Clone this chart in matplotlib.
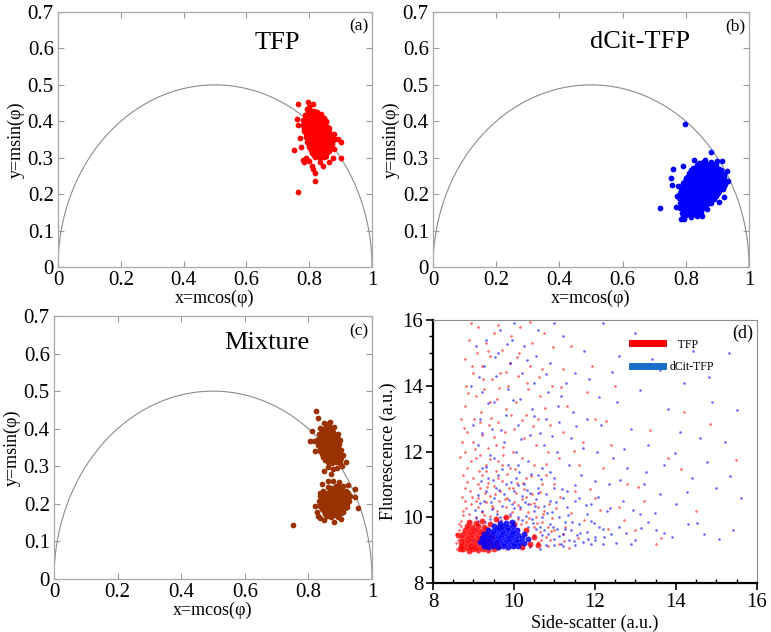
import matplotlib
matplotlib.use("Agg")
import matplotlib.pyplot as plt
from matplotlib.patches import Arc
from matplotlib.lines import Line2D
from matplotlib.ticker import MultipleLocator
import numpy as np

plt.rcParams["font.family"] = ["Liberation Serif", "DejaVu Serif"]

# ---- panel (a): TFP phasor points ----
tfp_points = [
    (0.792, 0.433), (0.803, 0.430), (0.815, 0.428), (0.800, 0.440),
    (0.787, 0.418), (0.798, 0.420), (0.809, 0.416), (0.821, 0.419), (0.832, 0.414),
    (0.781, 0.404), (0.792, 0.401), (0.804, 0.405), (0.816, 0.402), (0.828, 0.404), (0.840, 0.400), (0.846, 0.408),
    (0.779, 0.389), (0.790, 0.386), (0.802, 0.390), (0.813, 0.387), (0.825, 0.389), (0.837, 0.386), (0.849, 0.389), (0.856, 0.383),
    (0.784, 0.374), (0.795, 0.371), (0.807, 0.375), (0.818, 0.372), (0.830, 0.374), (0.842, 0.371), (0.854, 0.374), (0.864, 0.370),
    (0.789, 0.358), (0.800, 0.356), (0.812, 0.360), (0.824, 0.357), (0.836, 0.359), (0.848, 0.356), (0.860, 0.359), (0.870, 0.355),
    (0.794, 0.344), (0.806, 0.341), (0.818, 0.345), (0.830, 0.342), (0.842, 0.344), (0.854, 0.341), (0.866, 0.344), (0.874, 0.339),
    (0.800, 0.329), (0.812, 0.326), (0.824, 0.330), (0.836, 0.327), (0.848, 0.329), (0.860, 0.326), (0.868, 0.331),
    (0.810, 0.314), (0.822, 0.311), (0.834, 0.315), (0.846, 0.312), (0.856, 0.316),
    (0.820, 0.302), (0.835, 0.300), (0.848, 0.303),
    (0.797, 0.424), (0.809, 0.425), (0.824, 0.426),
    (0.792, 0.411), (0.804, 0.410), (0.815, 0.411), (0.827, 0.409), (0.838, 0.412),
    (0.786, 0.396), (0.798, 0.395), (0.810, 0.397), (0.822, 0.395), (0.834, 0.397), (0.846, 0.394), (0.853, 0.397),
    (0.784, 0.381), (0.796, 0.380), (0.808, 0.382), (0.819, 0.380), (0.831, 0.382), (0.843, 0.380), (0.855, 0.378), (0.862, 0.381),
    (0.790, 0.366), (0.801, 0.364), (0.813, 0.367), (0.824, 0.365), (0.836, 0.367), (0.848, 0.364), (0.860, 0.366), (0.868, 0.363),
    (0.795, 0.350), (0.806, 0.349), (0.818, 0.352), (0.830, 0.349), (0.842, 0.351), (0.854, 0.348), (0.866, 0.351), (0.876, 0.348),
    (0.800, 0.335), (0.812, 0.334), (0.824, 0.337), (0.836, 0.334), (0.848, 0.336), (0.860, 0.333), (0.871, 0.336),
    (0.806, 0.320), (0.818, 0.319), (0.830, 0.321), (0.842, 0.319), (0.854, 0.321), (0.864, 0.318),
    (0.815, 0.307), (0.828, 0.306), (0.841, 0.308), (0.852, 0.306),
    (0.765, 0.207), (0.820, 0.237), (0.818, 0.258), (0.812, 0.270), (0.808, 0.278), (0.750, 0.320),
    (0.782, 0.287), (0.780, 0.293), (0.790, 0.300), (0.900, 0.298), (0.902, 0.342), (0.893, 0.352),
    (0.760, 0.405), (0.764, 0.390), (0.765, 0.448), (0.797, 0.452), (0.811, 0.447), (0.838, 0.420),
    (0.845, 0.276), (0.862, 0.288), (0.880, 0.323), (0.875, 0.300), (0.835, 0.288), (0.770, 0.355),
    (0.775, 0.330), (0.883, 0.352), (0.878, 0.365), (0.800, 0.292), (0.852, 0.400),
]

# ---- panel (b): dCit-TFP phasor points ----
dcit_points = [
    (0.842, 0.285), (0.855, 0.288), (0.867, 0.284), (0.879, 0.287), (0.891, 0.283), (0.900, 0.290),
    (0.822, 0.273), (0.834, 0.270), (0.846, 0.274), (0.858, 0.271), (0.870, 0.274), (0.882, 0.270), (0.894, 0.273), (0.906, 0.270),
    (0.810, 0.259), (0.822, 0.256), (0.834, 0.260), (0.846, 0.257), (0.858, 0.259), (0.870, 0.256), (0.882, 0.260), (0.894, 0.257), (0.906, 0.259), (0.917, 0.256),
    (0.802, 0.245), (0.814, 0.242), (0.826, 0.246), (0.838, 0.243), (0.850, 0.245), (0.862, 0.242), (0.874, 0.246), (0.886, 0.243), (0.898, 0.245), (0.910, 0.242), (0.922, 0.246),
    (0.792, 0.231), (0.804, 0.228), (0.816, 0.232), (0.828, 0.229), (0.840, 0.231), (0.852, 0.228), (0.864, 0.232), (0.876, 0.229), (0.888, 0.231), (0.900, 0.228), (0.912, 0.232), (0.924, 0.229),
    (0.786, 0.217), (0.798, 0.214), (0.810, 0.218), (0.822, 0.215), (0.834, 0.217), (0.846, 0.214), (0.858, 0.218), (0.870, 0.215), (0.882, 0.217), (0.894, 0.214), (0.906, 0.218), (0.917, 0.215),
    (0.781, 0.203), (0.793, 0.200), (0.805, 0.204), (0.817, 0.201), (0.829, 0.203), (0.841, 0.200), (0.853, 0.204), (0.865, 0.201), (0.877, 0.203), (0.889, 0.200), (0.901, 0.204),
    (0.780, 0.189), (0.792, 0.186), (0.804, 0.190), (0.816, 0.187), (0.828, 0.189), (0.840, 0.186), (0.852, 0.190), (0.864, 0.187), (0.876, 0.189), (0.890, 0.186),
    (0.782, 0.175), (0.794, 0.172), (0.806, 0.176), (0.818, 0.173), (0.830, 0.175), (0.842, 0.172), (0.854, 0.176), (0.866, 0.173), (0.880, 0.175),
    (0.783, 0.161), (0.795, 0.158), (0.807, 0.162), (0.819, 0.159), (0.831, 0.161), (0.843, 0.158), (0.855, 0.162), (0.866, 0.159),
    (0.787, 0.147), (0.799, 0.144), (0.811, 0.148), (0.823, 0.145), (0.835, 0.147), (0.848, 0.150),
    (0.785, 0.133), (0.795, 0.131), (0.790, 0.138), (0.816, 0.136), (0.836, 0.139),
    (0.836, 0.279), (0.848, 0.280), (0.860, 0.278), (0.872, 0.280), (0.884, 0.278), (0.896, 0.280),
    (0.816, 0.265), (0.828, 0.264), (0.840, 0.266), (0.852, 0.264), (0.864, 0.266), (0.876, 0.264), (0.888, 0.266), (0.900, 0.264), (0.911, 0.265),
    (0.806, 0.251), (0.818, 0.250), (0.830, 0.252), (0.842, 0.250), (0.854, 0.252), (0.866, 0.250), (0.878, 0.252), (0.890, 0.250), (0.902, 0.252), (0.914, 0.250), (0.922, 0.253),
    (0.797, 0.237), (0.809, 0.236), (0.821, 0.238), (0.833, 0.236), (0.845, 0.238), (0.857, 0.236), (0.869, 0.238), (0.881, 0.236), (0.893, 0.238), (0.905, 0.236), (0.917, 0.238),
    (0.789, 0.223), (0.801, 0.222), (0.813, 0.224), (0.825, 0.222), (0.837, 0.224), (0.849, 0.222), (0.861, 0.224), (0.873, 0.222), (0.885, 0.224), (0.897, 0.222), (0.909, 0.224), (0.920, 0.222),
    (0.784, 0.209), (0.796, 0.208), (0.808, 0.210), (0.820, 0.208), (0.832, 0.210), (0.844, 0.208), (0.856, 0.210), (0.868, 0.208), (0.880, 0.210), (0.892, 0.208), (0.904, 0.210),
    (0.786, 0.195), (0.798, 0.194), (0.810, 0.196), (0.822, 0.194), (0.834, 0.196), (0.846, 0.194), (0.858, 0.196), (0.870, 0.194), (0.882, 0.196), (0.894, 0.194),
    (0.788, 0.181), (0.800, 0.180), (0.812, 0.182), (0.824, 0.180), (0.836, 0.182), (0.848, 0.180), (0.860, 0.182), (0.872, 0.180),
    (0.789, 0.167), (0.801, 0.166), (0.813, 0.168), (0.825, 0.166), (0.837, 0.168), (0.849, 0.166), (0.860, 0.168),
    (0.793, 0.153), (0.805, 0.152), (0.817, 0.154), (0.829, 0.152), (0.841, 0.154),
    (0.797, 0.393), (0.880, 0.317), (0.718, 0.163), (0.752, 0.245), (0.756, 0.226), (0.758, 0.270),
    (0.915, 0.291), (0.930, 0.263), (0.932, 0.236), (0.920, 0.192), (0.905, 0.178), (0.772, 0.195),
    (0.770, 0.165), (0.860, 0.295), (0.790, 0.278), (0.776, 0.222), (0.850, 0.140), (0.826, 0.295),
]

# ---- panel (c): mixture phasor points ----
mix_points = [
    (0.848, 0.416), (0.860, 0.413), (0.868, 0.418),
    (0.838, 0.401), (0.850, 0.398), (0.862, 0.402), (0.874, 0.399), (0.880, 0.404),
    (0.832, 0.386), (0.844, 0.383), (0.856, 0.387), (0.868, 0.384), (0.880, 0.386), (0.887, 0.382),
    (0.826, 0.371), (0.838, 0.368), (0.850, 0.372), (0.862, 0.369), (0.874, 0.371), (0.886, 0.368), (0.892, 0.373),
    (0.830, 0.356), (0.842, 0.353), (0.854, 0.357), (0.866, 0.354), (0.878, 0.356), (0.890, 0.353), (0.896, 0.358),
    (0.836, 0.341), (0.848, 0.338), (0.860, 0.342), (0.872, 0.339), (0.884, 0.341), (0.896, 0.338), (0.902, 0.343),
    (0.846, 0.326), (0.858, 0.323), (0.870, 0.327), (0.882, 0.324), (0.894, 0.326), (0.904, 0.322),
    (0.862, 0.311), (0.874, 0.308), (0.886, 0.312), (0.898, 0.309),
    (0.854, 0.408), (0.866, 0.409),
    (0.844, 0.393), (0.856, 0.392), (0.868, 0.394), (0.878, 0.392),
    (0.836, 0.378), (0.848, 0.377), (0.860, 0.379), (0.872, 0.377), (0.884, 0.378),
    (0.832, 0.363), (0.844, 0.362), (0.856, 0.364), (0.868, 0.362), (0.880, 0.364), (0.891, 0.362),
    (0.836, 0.348), (0.848, 0.347), (0.860, 0.349), (0.872, 0.347), (0.884, 0.349), (0.895, 0.347),
    (0.842, 0.333), (0.854, 0.332), (0.866, 0.334), (0.878, 0.332), (0.890, 0.334), (0.900, 0.332),
    (0.852, 0.318), (0.864, 0.317), (0.876, 0.319), (0.888, 0.317), (0.898, 0.318),
    (0.823, 0.447), (0.830, 0.428), (0.812, 0.395), (0.818, 0.367), (0.806, 0.368), (0.822, 0.340),
    (0.910, 0.330), (0.917, 0.312), (0.905, 0.300), (0.890, 0.296), (0.878, 0.292), (0.862, 0.298),
    (0.850, 0.288), (0.870, 0.280), (0.893, 0.385), (0.900, 0.370),
    (0.862, 0.246), (0.874, 0.243), (0.886, 0.247), (0.898, 0.244), (0.908, 0.248),
    (0.847, 0.233), (0.859, 0.230), (0.871, 0.234), (0.883, 0.231), (0.895, 0.233), (0.907, 0.230), (0.919, 0.234),
    (0.837, 0.220), (0.849, 0.217), (0.861, 0.221), (0.873, 0.218), (0.885, 0.220), (0.897, 0.217), (0.909, 0.221), (0.921, 0.218), (0.931, 0.222),
    (0.832, 0.207), (0.844, 0.204), (0.856, 0.208), (0.868, 0.205), (0.880, 0.207), (0.892, 0.204), (0.904, 0.208), (0.916, 0.205), (0.928, 0.207),
    (0.838, 0.194), (0.850, 0.191), (0.862, 0.195), (0.874, 0.192), (0.886, 0.194), (0.898, 0.191), (0.910, 0.195), (0.922, 0.192),
    (0.848, 0.181), (0.860, 0.178), (0.872, 0.182), (0.884, 0.179), (0.896, 0.181), (0.908, 0.178),
    (0.858, 0.168), (0.870, 0.165), (0.882, 0.169), (0.894, 0.166),
    (0.868, 0.240), (0.880, 0.239), (0.892, 0.241), (0.904, 0.239),
    (0.853, 0.227), (0.865, 0.226), (0.877, 0.228), (0.889, 0.226), (0.901, 0.228), (0.913, 0.226), (0.923, 0.228),
    (0.843, 0.213), (0.855, 0.212), (0.867, 0.214), (0.879, 0.212), (0.891, 0.214), (0.903, 0.212), (0.915, 0.214), (0.926, 0.212),
    (0.838, 0.200), (0.850, 0.199), (0.862, 0.201), (0.874, 0.199), (0.886, 0.201), (0.898, 0.199), (0.910, 0.201), (0.922, 0.199),
    (0.843, 0.187), (0.855, 0.186), (0.867, 0.188), (0.879, 0.186), (0.891, 0.188), (0.903, 0.186), (0.914, 0.188),
    (0.853, 0.174), (0.865, 0.173), (0.877, 0.175), (0.889, 0.173), (0.901, 0.175),
    (0.752, 0.145), (0.820, 0.195), (0.826, 0.178), (0.830, 0.168), (0.838, 0.162), (0.850, 0.158),
    (0.880, 0.152), (0.902, 0.160), (0.955, 0.190), (0.948, 0.218), (0.945, 0.240), (0.925, 0.250),
    (0.895, 0.258), (0.878, 0.262), (0.862, 0.262), (0.838, 0.228), (0.842, 0.252),
]

# ---- panel (d): side-scatter vs fluorescence events ----
tfp_core = [
    (8.75, 9.02), (8.88, 8.98), (8.99, 9.03), (9.11, 8.99), (9.24, 9.02), (9.36, 9.00), (9.50, 9.04),
    (8.70, 9.13), (8.83, 9.10), (8.94, 9.14), (9.06, 9.11), (9.18, 9.15), (9.31, 9.12), (9.42, 9.14), (9.60, 9.10),
    (8.68, 9.25), (8.80, 9.22), (8.92, 9.26), (9.04, 9.23), (9.16, 9.27), (9.28, 9.24), (9.40, 9.26), (9.55, 9.22),
    (8.72, 9.37), (8.84, 9.34), (8.96, 9.38), (9.08, 9.35), (9.20, 9.38), (9.32, 9.35), (9.45, 9.40),
    (8.75, 9.49), (8.87, 9.46), (8.99, 9.50), (9.11, 9.47), (9.23, 9.51), (9.36, 9.48),
    (8.80, 9.61), (8.92, 9.58), (9.04, 9.62), (9.16, 9.59), (9.30, 9.63),
    (8.85, 9.73), (8.97, 9.70), (9.10, 9.74), (9.25, 9.71),
    (8.90, 9.86), (9.05, 9.83), (9.20, 9.88), (9.40, 9.80), (9.55, 9.95),
    (10.20, 9.10), (10.40, 9.20), (10.60, 9.15), (10.50, 9.40), (10.30, 9.60), (10.00, 9.80),
    (8.66, 9.05), (8.62, 9.45), (9.65, 9.70), (9.80, 10.00),
]
dcit_core = [
    (9.25, 9.12), (9.37, 9.10), (9.49, 9.13), (9.61, 9.11), (9.73, 9.14), (9.85, 9.10), (9.97, 9.13), (10.10, 9.12),
    (9.15, 9.24), (9.27, 9.22), (9.39, 9.25), (9.51, 9.23), (9.63, 9.26), (9.75, 9.22), (9.87, 9.25), (9.99, 9.23), (10.12, 9.26), (10.25, 9.22),
    (9.20, 9.36), (9.32, 9.34), (9.44, 9.37), (9.56, 9.35), (9.68, 9.38), (9.80, 9.34), (9.92, 9.37), (10.05, 9.35), (10.20, 9.38), (10.35, 9.33),
    (9.25, 9.48), (9.37, 9.46), (9.49, 9.49), (9.61, 9.47), (9.73, 9.50), (9.85, 9.46), (9.97, 9.49), (10.10, 9.47), (10.25, 9.50),
    (9.35, 9.60), (9.47, 9.58), (9.59, 9.61), (9.71, 9.59), (9.83, 9.62), (9.95, 9.58), (10.08, 9.61),
    (9.50, 9.72), (9.62, 9.70), (9.74, 9.73), (9.86, 9.71), (9.98, 9.74),
    (9.65, 9.84), (9.80, 9.82), (9.95, 9.86),
]
tfp_dots = [
    (8.62, 9.30), (8.65, 9.60), (8.70, 9.90), (8.75, 10.20), (8.80, 10.50), (8.78, 10.90), (8.90, 10.10),
    (8.95, 10.40), (8.92, 10.80), (9.00, 11.20), (9.05, 10.00), (9.10, 10.30), (9.12, 10.60), (9.15, 10.90),
    (9.20, 11.30), (9.22, 10.15), (9.30, 10.45), (9.28, 10.75), (9.35, 11.05), (9.40, 10.05), (9.45, 10.35),
    (9.42, 10.65), (9.50, 10.95), (9.55, 11.40), (9.58, 10.20), (9.62, 10.50), (9.66, 10.80), (9.70, 11.10),
    (9.75, 10.00), (9.80, 10.30), (9.82, 10.60), (9.88, 10.90), (9.90, 11.50), (9.95, 10.15), (10.00, 10.45),
    (10.05, 10.75), (10.08, 11.05), (10.10, 9.95), (10.15, 10.25), (10.20, 10.55), (10.25, 10.85), (10.30, 9.85),
    (10.35, 10.15), (10.40, 10.40), (10.45, 10.70), (10.50, 9.70), (10.55, 10.00), (10.60, 10.30), (10.65, 9.55),
    (10.70, 9.85), (10.75, 10.20), (10.80, 9.40), (10.85, 9.70), (10.90, 9.30), (11.00, 9.60), (11.10, 9.20),
    (10.00, 9.10), (10.20, 9.20), (10.40, 9.15), (10.60, 9.25), (10.30, 9.45), (10.10, 9.65), (9.90, 9.85),
    (8.60, 9.05), (8.68, 9.15), (8.58, 9.50), (9.60, 9.10), (9.80, 9.05), (10.05, 9.30), (10.50, 9.45),
    (11.20, 9.50), (9.30, 11.60), (8.85, 11.50), (9.05, 11.80), (9.60, 11.70),
    (8.75, 11.3), (8.80, 12.0), (8.85, 12.6), (8.80, 13.4), (8.82, 14.0), (8.78, 14.8), (8.90, 15.4),
    (8.95, 11.7), (9.00, 12.3), (9.02, 13.0), (9.05, 13.7), (9.00, 14.4), (9.08, 15.0), (9.10, 15.8),
    (9.15, 11.9), (9.20, 12.5), (9.18, 13.2), (9.25, 13.9), (9.22, 14.6), (9.30, 15.3), (9.35, 12.1),
    (9.38, 12.8), (9.40, 13.5), (9.45, 14.2), (9.42, 14.9), (9.50, 15.6), (9.55, 12.2), (9.60, 12.9),
    (9.58, 13.6), (9.65, 14.4), (9.70, 15.1), (9.72, 11.9), (9.78, 12.6), (9.80, 13.3), (9.85, 14.0),
    (9.90, 14.7), (9.92, 15.5), (9.98, 12.0), (10.00, 12.7), (10.05, 13.5), (10.10, 14.3), (10.12, 15.0),
    (10.15, 15.8), (10.20, 11.8), (10.25, 12.4), (10.30, 13.1), (10.35, 13.9), (10.40, 14.6), (10.45, 15.3),
    (10.50, 11.6), (10.55, 12.2), (10.60, 13.0), (10.65, 13.7), (10.70, 14.5), (10.75, 15.6), (10.80, 11.3),
    (10.85, 12.0), (10.90, 12.8), (10.95, 14.0), (11.00, 11.0), (11.10, 11.8), (11.20, 12.6), (11.30, 13.4),
    (11.40, 15.2), (11.50, 10.8), (11.60, 11.6), (11.70, 12.3), (11.80, 13.8), (12.00, 10.6), (12.20, 11.5),
    (12.40, 12.2), (12.60, 10.3), (12.80, 11.0), (13.00, 9.6), (13.20, 10.5), (13.50, 9.2), (13.80, 11.8),
    (14.20, 13.2), (14.50, 10.2), (9.10, 11.0), (9.30, 11.4), (9.70, 11.6), (10.30, 11.2), (10.70, 11.0),
    (8.70, 13.0), (8.72, 12.3), (8.95, 15.9), (9.60, 15.85), (10.40, 15.95), (11.20, 14.5), (12.50, 14.0),
    (12.00, 13.0),
    (8.71, 10.62), (8.83, 11.07), (8.93, 9.87), (9.07, 10.48), (9.13, 11.41), (9.27, 10.08), (9.33, 10.93),
    (9.41, 11.77), (9.47, 10.27), (9.53, 10.71), (9.61, 11.19), (9.69, 9.93), (9.77, 10.57), (9.83, 11.31),
    (9.91, 10.03), (9.97, 10.89), (10.03, 11.47), (10.11, 10.37), (10.17, 9.79), (10.23, 11.03), (10.29, 10.61),
    (10.37, 9.97), (10.43, 11.27), (10.49, 10.43), (10.57, 9.83), (10.63, 10.77), (10.71, 10.09), (10.79, 11.61),
    (10.87, 10.41), (10.93, 9.97), (11.03, 10.27), (11.13, 10.63), (11.27, 9.71), (11.41, 10.13), (11.57, 9.37),
    (11.73, 9.93), (11.87, 10.87), (12.13, 10.21), (12.33, 9.63), (12.71, 9.91), (13.07, 10.93), (13.37, 12.67),
    (13.63, 9.37), (14.13, 11.47), (14.83, 12.83), (15.47, 11.73), (8.67, 11.83), (8.77, 12.71), (8.87, 13.77),
    (8.97, 14.61), (9.03, 12.07), (9.17, 12.89), (9.23, 14.21), (9.37, 15.07), (9.43, 13.03), (9.51, 12.43),
    (9.63, 13.93), (9.73, 12.13), (9.81, 14.41), (9.93, 13.11), (10.07, 14.87), (10.19, 12.97), (10.31, 14.09),
    (10.47, 12.77), (10.61, 14.27), (10.77, 13.31), (10.97, 15.17), (11.17, 13.97), (11.47, 12.03), (11.93, 14.61),
    (12.27, 12.93), (8.69, 9.73), (8.73, 10.07), (8.81, 10.29), (8.87, 9.69), (9.39, 9.61), (9.57, 9.91),
    (10.67, 9.31), (10.83, 9.13), (11.23, 9.27), (11.37, 9.07), (10.91, 9.57), (8.57, 9.23), (8.63, 9.81),
    (8.97, 10.63),
]
dcit_dots = [
    (9.10, 9.90), (9.20, 10.20), (9.25, 10.50), (9.30, 10.80), (9.35, 11.20), (9.40, 9.95), (9.45, 10.25),
    (9.50, 10.60), (9.55, 10.90), (9.60, 11.30), (9.65, 10.00), (9.70, 10.35), (9.75, 10.70), (9.80, 11.00),
    (9.85, 11.60), (9.90, 10.10), (9.95, 10.40), (10.00, 10.80), (10.05, 11.20), (10.10, 10.00), (10.15, 10.30),
    (10.20, 10.65), (10.25, 11.00), (10.30, 10.05), (10.35, 10.40), (10.40, 10.75), (10.45, 9.95), (10.50, 10.20),
    (10.55, 10.55), (10.60, 10.90), (10.65, 9.70), (10.70, 10.00), (10.75, 10.35), (10.80, 10.70), (10.85, 9.50),
    (10.90, 9.80), (10.95, 10.15), (11.00, 9.35), (11.05, 9.65), (11.10, 10.00), (11.15, 9.20), (11.20, 9.50),
    (11.25, 9.85), (11.30, 10.30), (11.35, 9.30), (11.40, 9.60), (11.50, 9.15), (11.55, 9.45), (11.60, 9.80),
    (11.70, 9.25), (11.80, 9.55), (11.90, 9.20), (12.00, 9.40), (12.10, 9.70), (10.40, 9.10), (10.60, 9.20),
    (10.80, 9.15), (10.50, 9.40), (10.70, 9.45), (9.00, 9.30), (9.05, 9.60), (8.95, 9.10), (9.10, 9.75),
    (10.55, 9.65), (10.35, 9.70), (10.90, 10.50), (11.00, 10.90), (11.20, 10.60), (10.60, 11.30), (10.10, 11.60),
    (9.50, 11.80), (9.20, 11.50), (11.50, 10.50), (11.80, 10.10), (12.20, 9.20),
    (9.10, 12.2), (9.15, 13.0), (9.20, 13.8), (9.25, 14.6), (9.30, 15.4), (9.40, 11.9), (9.45, 12.7),
    (9.50, 13.5), (9.55, 14.3), (9.60, 15.0), (9.65, 15.7), (9.75, 12.3), (9.80, 13.1), (9.85, 13.9),
    (9.90, 14.7), (9.95, 15.4), (10.05, 12.0), (10.10, 12.8), (10.15, 13.6), (10.20, 14.4), (10.25, 15.2),
    (10.35, 11.7), (10.40, 12.5), (10.45, 13.3), (10.50, 14.1), (10.55, 14.9), (10.60, 15.7), (10.70, 11.5),
    (10.75, 12.2), (10.80, 13.0), (10.85, 13.8), (10.90, 14.7), (11.00, 11.2), (11.05, 12.0), (11.10, 12.9),
    (11.15, 13.7), (11.20, 15.5), (11.30, 10.8), (11.35, 11.6), (11.40, 12.4), (11.45, 13.2), (11.60, 10.6),
    (11.65, 11.3), (11.70, 12.1), (11.80, 13.0), (11.85, 14.2), (11.90, 10.4), (12.00, 11.1), (12.05, 12.0),
    (12.15, 12.8), (12.20, 15.9), (12.30, 10.2), (12.35, 11.0), (12.45, 11.8), (12.55, 13.5), (12.60, 9.7),
    (12.70, 10.5), (12.80, 11.5), (12.90, 12.7), (13.00, 9.3), (13.10, 10.1), (13.20, 11.0), (13.30, 12.2),
    (13.40, 14.8), (13.50, 9.6), (13.60, 10.7), (13.70, 11.6), (13.80, 13.3), (13.90, 9.4), (14.00, 10.4),
    (14.10, 12.6), (14.30, 9.8), (14.40, 11.2), (14.60, 12.4), (14.70, 9.5), (14.90, 13.5), (15.00, 10.9),
    (15.20, 12.3), (15.30, 15.0), (15.40, 9.6), (15.60, 10.6), (12.00, 9.3), (12.40, 9.5), (12.90, 9.2),
    (11.90, 9.9), (12.20, 9.65), (13.30, 9.85), (9.00, 12.8), (8.95, 14.0), (9.05, 15.2), (10.00, 15.9),
    (11.50, 14.4), (12.60, 14.9), (13.00, 15.6), (14.20, 14.1), (11.00, 15.9),
    (9.03, 10.23), (9.11, 10.67), (9.19, 11.09), (9.29, 9.87), (9.31, 11.53), (9.43, 10.47), (9.49, 11.13),
    (9.57, 10.11), (9.63, 10.83), (9.71, 11.47), (9.79, 9.97), (9.87, 10.53), (9.93, 11.07), (10.01, 10.27),
    (10.09, 10.97), (10.13, 11.39), (10.21, 9.91), (10.27, 10.47), (10.33, 10.83), (10.41, 11.33), (10.47, 9.83),
    (10.53, 10.33), (10.59, 10.73), (10.67, 11.17), (10.73, 9.61), (10.81, 10.13), (10.89, 11.37), (10.97, 9.71),
    (11.03, 10.47), (11.11, 9.43), (11.19, 10.87), (11.27, 9.63), (11.33, 10.07), (11.43, 9.87), (11.51, 10.97),
    (11.63, 9.53), (11.77, 10.37), (11.83, 9.33), (11.97, 9.83), (12.07, 10.63), (12.23, 9.41), (12.37, 10.27),
    (12.51, 9.23), (12.63, 11.13), (12.77, 9.51), (12.93, 10.21), (13.13, 9.67), (13.27, 11.37), (13.47, 10.13),
    (13.71, 9.53), (13.97, 11.97), (14.27, 10.77), (14.53, 9.83), (14.77, 11.67), (15.07, 9.33), (15.33, 11.27),
    (15.51, 13.27), (9.13, 14.27), (9.21, 12.57), (9.37, 13.47), (9.53, 14.87), (9.67, 12.67), (9.83, 15.27),
    (9.97, 13.57), (10.17, 12.37), (10.33, 14.77), (10.49, 13.07), (10.63, 12.57), (10.79, 14.37), (10.93, 12.47),
    (11.09, 13.37), (11.29, 14.07), (11.53, 12.77), (11.73, 15.07), (12.11, 13.67), (12.41, 14.43), (12.71, 12.07),
    (13.11, 13.87), (13.61, 14.47), (14.41, 15.07), (14.81, 14.27), (9.07, 9.97), (9.17, 10.43), (10.23, 9.07),
    (10.63, 9.03), (10.99, 9.17), (11.21, 9.13), (11.47, 9.27),
]

phasor_xticks = [0, 0.2, 0.4, 0.6, 0.8, 1]
phasor_xlabels = ["0", "0.2", "0.4", "0.6", "0.8", "1"]
phasor_yticks = [0, 0.1, 0.2, 0.3, 0.4, 0.5, 0.6, 0.7]
phasor_ylabels = ["0", "0.1", "0.2", "0.3", "0.4", "0.5", "0.6", "0.7"]
flow_ticks = [8, 10, 12, 14, 16]

fig = plt.figure(figsize=(7.71, 6.32), dpi=100)


def phasor_panel(rect, points, color, title, title_xy, tag):
    ax = fig.add_axes(rect)
    px, py = np.array(points).T
    ax.add_patch(Arc((0.5, 0), 1, 1, theta1=0, theta2=180, color="#8c8c8c", lw=0.8))
    ax.scatter(px, py, s=17, color=color, linewidths=0, zorder=3)
    ax.set_xlim(0, 1)
    ax.set_ylim(0, 0.7)
    ax.set_xticks(phasor_xticks, phasor_xlabels)
    ax.set_yticks(phasor_yticks, phasor_ylabels)
    ax.tick_params(direction="in", top=True, right=True, length=4, width=0.8,
                   color="#9a9a9a", labelsize=15, pad=3)
    for sp in ax.spines.values():
        sp.set_color("#a8a8a8")
        sp.set_linewidth(0.9)
    ax.set_xlabel("x=mcos(φ)", fontsize=13, labelpad=0)
    ax.set_ylabel("y=msin(φ)", fontsize=13, labelpad=2)
    ax.text(title_xy[0], title_xy[1], title, fontsize=19, ha="center", va="center")
    ax.text(0.957, 0.66, tag, fontsize=12.5, ha="center", va="center")
    return ax


phasor_panel([0.0752, 0.5775, 0.4073, 0.4035], tfp_points, "#ff0000", "TFP", (0.70, 0.615), "(a)")
phasor_panel([0.5616, 0.5775, 0.4099, 0.4035], dcit_points, "#0000ff", "dCit-TFP", (0.655, 0.617), "(b)")
phasor_panel([0.0700, 0.0839, 0.4125, 0.4161], mix_points, "#9a3200", "Mixture", (0.67, 0.628), "(c)")

# ---- panel (d) ----
ax = fig.add_axes([0.5616, 0.0775, 0.4202, 0.4161])
for pts, col, size, alpha in [
    (tfp_dots, "#ff0000", 3.5, 0.6),
    (dcit_dots, "#0000ff", 3.5, 0.6),
    (tfp_core, "#ff0000", 18, 0.8),
    (dcit_core, "#0000ff", 18, 0.85),
]:
    xs, ys = np.array(pts).T
    ax.scatter(xs, ys, s=size, color=col, alpha=alpha, linewidths=0)

ax.set_xlim(8, 16)
ax.set_ylim(8, 16)
ax.set_xticks(flow_ticks)
ax.set_yticks(flow_ticks)
ax.xaxis.set_minor_locator(MultipleLocator(0.5))
ax.yaxis.set_minor_locator(MultipleLocator(0.5))
ax.tick_params(axis="x", which="major", direction="out", length=5, width=1.2, labelsize=15, pad=2)
ax.tick_params(axis="x", which="minor", direction="in", length=3, width=1)
ax.tick_params(axis="y", which="major", direction="out", length=5, width=1.2, labelsize=15, pad=2)
ax.tick_params(axis="y", which="minor", direction="out", length=3, width=1)
ax.spines["left"].set_linewidth(1.6)
ax.spines["bottom"].set_linewidth(1.6)
ax.spines["top"].set_color("#8c8c8c")
ax.spines["right"].set_color("#8c8c8c")
ax.set_xlabel("Side-scatter (a.u.)", fontsize=13, labelpad=2)
ax.set_ylabel("Fluorescence (a.u.)", fontsize=13, labelpad=4)
ax.text(15.65, 15.6, "(d)", fontsize=13, ha="center", va="center")

handles = [Line2D([], [], color="#ff0000", lw=5), Line2D([], [], color="#1a6ec8", lw=5)]
ax.legend(handles, ["   TFP", "dCit-TFP"], loc="upper left", bbox_to_anchor=(0.58, 0.97),
          frameon=False, fontsize=8.5, handlelength=2.7, handletextpad=0.5, labelspacing=0.9)

fig.savefig("out.png", dpi=100)
